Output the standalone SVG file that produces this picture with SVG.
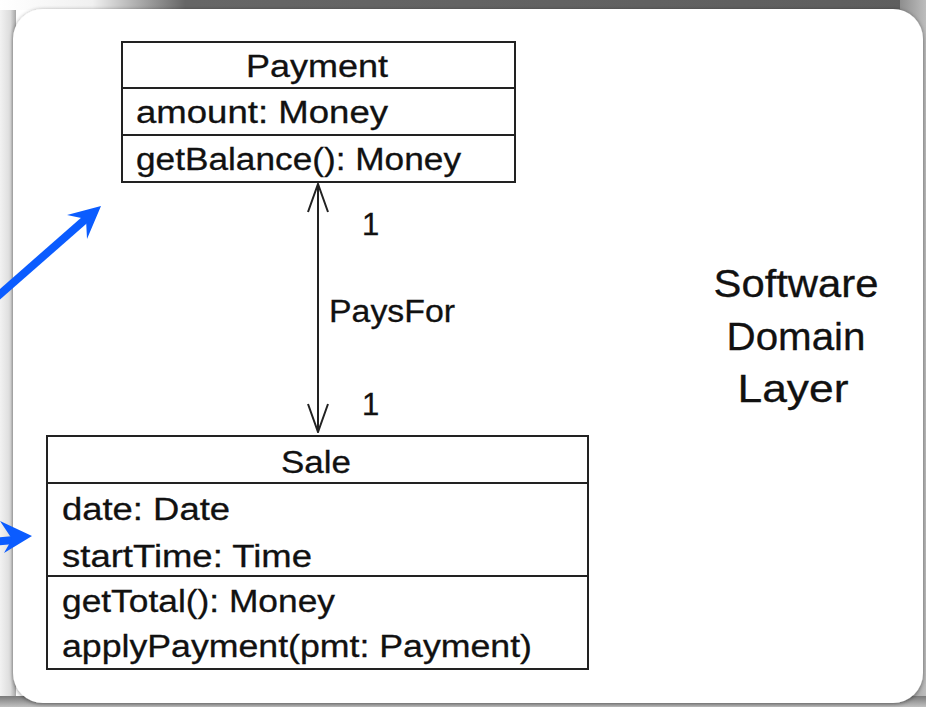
<svg xmlns="http://www.w3.org/2000/svg" width="926" height="707" viewBox="0 0 926 707">
<defs>
<style>
.box{fill:#fff;stroke:#222;stroke-width:2}
.div{stroke:#222;stroke-width:2}
.t{font-family:"Liberation Sans",Arial,Helvetica,sans-serif;font-size:31px;fill:#111;stroke:#111;stroke-width:0.3}
.big{font-family:"Liberation Sans",Arial,Helvetica,sans-serif;font-size:38px;fill:#111;stroke:#111;stroke-width:0.3;text-anchor:middle}
.mid{text-anchor:middle}
.assoc{stroke:#222;stroke-width:2;fill:none}
.blue{fill:#0b5cff}
.blueline{stroke:#0b5cff;stroke-width:8;fill:none}
</style>
<linearGradient id="gLeft" x1="0" y1="0" x2="1" y2="0">
<stop offset="0" stop-color="#f2f2f2"/>
<stop offset="0.65" stop-color="#dcdcdc"/>
<stop offset="1" stop-color="#a6a6a6"/>
</linearGradient>
<linearGradient id="gTop" x1="0" y1="0" x2="1" y2="0">
<stop offset="0" stop-color="#ffffff"/>
<stop offset="0.1" stop-color="#f0f0f0"/>
<stop offset="0.2" stop-color="#666666"/>
<stop offset="1" stop-color="#5e5e5e"/>
</linearGradient>
<linearGradient id="gBottom" x1="0" y1="0" x2="0" y2="1">
<stop offset="0" stop-color="#7a7a7a"/>
<stop offset="1" stop-color="#c0c0c0"/>
</linearGradient>
<linearGradient id="gRight" x1="0" y1="0" x2="1" y2="0">
<stop offset="0" stop-color="#8e8e8e"/>
<stop offset="1" stop-color="#bdbdbd"/>
</linearGradient>
<filter id="sh" x="-5%" y="-5%" width="110%" height="110%">
<feGaussianBlur in="SourceAlpha" stdDeviation="2"/>
<feOffset dx="0" dy="1" result="b"/>
<feFlood flood-color="#000" flood-opacity="0.45"/>
<feComposite in2="b" operator="in"/>
<feMerge><feMergeNode/><feMergeNode in="SourceGraphic"/></feMerge>
</filter>
<marker id="open" viewBox="0 0 30 22" refX="29" refY="11" markerWidth="30" markerHeight="22" markerUnits="userSpaceOnUse" orient="auto-start-reverse">
<path d="M1,1 L29,11 L1,21" fill="none" stroke="#222" stroke-width="2"/>
</marker>
</defs>
<g id="background">
<rect x="0" y="0" width="926" height="707" fill="#ffffff"/>
<rect x="0" y="0" width="16" height="707" fill="url(#gLeft)"/>
<rect x="0" y="0" width="926" height="10" fill="url(#gTop)"/>
<rect x="900" y="0" width="26" height="707" fill="url(#gRight)"/>
<rect x="0" y="696" width="926" height="11" fill="url(#gBottom)"/>
<rect x="13" y="9" width="910" height="694" rx="30" ry="30" fill="#ffffff" filter="url(#sh)"/>
</g>
<g id="connectors">
<line id="paysfor" class="assoc" x1="318" y1="184" x2="318" y2="432" marker-start="url(#open)" marker-end="url(#open)"/>
<text class="t" x="362" y="235">1</text>
<text class="t" x="329" y="322" textLength="126" lengthAdjust="spacingAndGlyphs">PaysFor</text>
<text class="t" x="362" y="415">1</text>
</g>
<g id="Payment">
<rect class="box" x="122" y="42" width="393" height="140"/>
<line class="div" x1="122" y1="88" x2="515" y2="88"/>
<line class="div" x1="122" y1="135" x2="515" y2="135"/>
<text class="t mid" x="317" y="77" textLength="142" lengthAdjust="spacingAndGlyphs">Payment</text>
<text class="t" x="136" y="123" textLength="252" lengthAdjust="spacingAndGlyphs">amount: Money</text>
<text class="t" x="136" y="170" textLength="325" lengthAdjust="spacingAndGlyphs">getBalance(): Money</text>
</g>
<g id="Sale">
<rect class="box" x="47" y="436" width="541" height="233"/>
<line class="div" x1="47" y1="483" x2="588" y2="483"/>
<line class="div" x1="47" y1="576" x2="588" y2="576"/>
<text class="t mid" x="316" y="473" textLength="70" lengthAdjust="spacingAndGlyphs">Sale</text>
<text class="t" x="62" y="520" textLength="168" lengthAdjust="spacingAndGlyphs">date: Date</text>
<text class="t" x="62" y="567" textLength="250" lengthAdjust="spacingAndGlyphs">startTime: Time</text>
<text class="t" x="62" y="612" textLength="273" lengthAdjust="spacingAndGlyphs">getTotal(): Money</text>
<text class="t" x="62" y="657" textLength="470" lengthAdjust="spacingAndGlyphs">applyPayment(pmt: Payment)</text>
</g>
<g id="layer-label">
<text class="big" x="796" y="297" textLength="165" lengthAdjust="spacingAndGlyphs">Software</text>
<text class="big" x="796" y="350" textLength="139" lengthAdjust="spacingAndGlyphs">Domain</text>
<text class="big" x="793" y="402" textLength="111" lengthAdjust="spacingAndGlyphs">Layer</text>
</g>
<g id="pointer-arrows">
<g id="arrow-payment">
<line class="blueline" x1="-10" y1="303" x2="88" y2="217"/>
<polygon class="blue" points="101,206 67,215 86,219 87,239"/>
</g>
<g id="arrow-sale">
<line class="blueline" x1="-10" y1="542" x2="14" y2="540"/>
<polygon class="blue" points="32,536 0,521 12,539 4,553"/>
</g>
</g>
</svg>
